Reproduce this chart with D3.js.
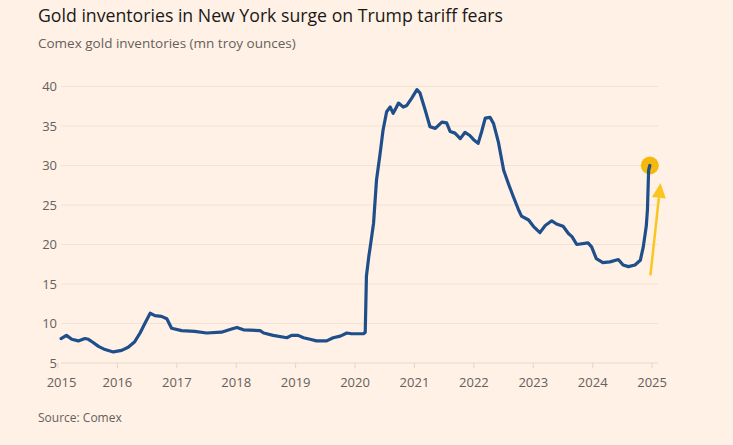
<!DOCTYPE html>
<html>
<head>
<meta charset="utf-8">
<script src="https://cdn.jsdelivr.net/npm/d3@7"></script>
<style>
  html, body { margin: 0; padding: 0; background: #fff1e5; }
  svg { display: block; font-family: "Open Sans", sans-serif; }
</style>
</head>
<body>
<svg id="chart" width="733" height="445"></svg>
<script>
// decimal years and Comex gold inventories (mn troy oz)
var years = [
  2015.06, 2015.15, 2015.24, 2015.35, 2015.46, 2015.52, 2015.60, 2015.69, 2015.80, 2015.94,
  2016.08, 2016.19, 2016.30, 2016.39, 2016.47, 2016.56, 2016.64, 2016.75, 2016.84, 2016.92,
  2017.09, 2017.31, 2017.51, 2017.76, 2017.93, 2018.02, 2018.13, 2018.41, 2018.47, 2018.63,
  2018.86, 2018.94, 2019.05, 2019.14, 2019.25, 2019.36, 2019.53, 2019.64, 2019.76, 2019.87,
  2019.95, 2020.15, 2020.18, 2020.20, 2020.24, 2020.26, 2020.32, 2020.37, 2020.43, 2020.48,
  2020.54, 2020.60, 2020.65, 2020.70, 2020.74, 2020.82, 2020.88, 2020.96, 2021.05, 2021.10,
  2021.19, 2021.27, 2021.36, 2021.47, 2021.55, 2021.61, 2021.69, 2021.78, 2021.86, 2021.94,
  2022.00, 2022.08, 2022.14, 2022.20, 2022.28, 2022.34, 2022.42, 2022.51, 2022.59, 2022.67,
  2022.76, 2022.81, 2022.93, 2023.01, 2023.12, 2023.21, 2023.32, 2023.40, 2023.51, 2023.60,
  2023.66, 2023.74, 2023.93, 2023.99, 2024.07, 2024.18, 2024.30, 2024.44, 2024.52, 2024.61,
  2024.72, 2024.81, 2024.86, 2024.91, 2024.93, 2024.95, 2024.97
];
var values = [
  8.1, 8.5, 8.0, 7.8, 8.1, 8.0, 7.6, 7.1, 6.7, 6.4,
  6.6, 7.0, 7.7, 8.8, 10.0, 11.3, 11.0, 10.9, 10.6, 9.4,
  9.1, 9.0, 8.8, 8.9, 9.3, 9.5, 9.2, 9.1, 8.8, 8.5,
  8.2, 8.5, 8.5, 8.2, 8.0, 7.8, 7.8, 8.2, 8.4, 8.8,
  8.7, 8.7, 8.9, 16.0, 18.5, 19.5, 22.7, 28.2, 31.5, 34.5,
  36.8, 37.4, 36.6, 37.3, 37.9, 37.4, 37.6, 38.5, 39.6, 39.2,
  37.0, 34.9, 34.7, 35.5, 35.4, 34.3, 34.1, 33.4, 34.2, 33.8,
  33.3, 32.8, 34.3, 36.0, 36.1, 35.3, 33.0, 29.4, 27.7, 26.1,
  24.4, 23.6, 23.1, 22.3, 21.5, 22.4, 23.0, 22.6, 22.3, 21.4,
  21.0, 20.0, 20.2, 19.7, 18.2, 17.7, 17.8, 18.1, 17.4, 17.2,
  17.4, 18.0, 19.7, 22.3, 24.4, 29.4, 30.0
];
var yTicks = [5, 10, 15, 20, 25, 30, 35, 40];
var xTicks = [2015, 2016, 2017, 2018, 2019, 2020, 2021, 2022, 2023, 2024, 2025];

var svg = d3.select("#chart");

var x = d3.scaleLinear().domain([2015, 2025]).range([57.5, 651.6]);
var y = d3.scaleLinear().domain([5, 40]).range([363, 86.5]);
var gridLeft = 61, gridRight = 658;

svg.append("rect")
  .attr("width", 733).attr("height", 445)
  .attr("fill", "#fff1e5");

// titles
svg.append("text")
  .attr("x", 38).attr("y", 22)
  .attr("font-size", "17.7px")
  .attr("fill", "#1a1817")
  .text("Gold inventories in New York surge on Trump tariff fears");

svg.append("text")
  .attr("x", 38).attr("y", 48)
  .attr("font-size", "13.5px")
  .attr("fill", "#66605c")
  .text("Comex gold inventories (mn troy ounces)");

// horizontal gridlines + y labels
var yAxis = svg.append("g").attr("class", "y-axis");

yAxis.selectAll("line")
  .data(yTicks)
  .enter()
  .append("line")
  .attr("x1", gridLeft).attr("x2", gridRight)
  .attr("y1", function (d) { return y(d); })
  .attr("y2", function (d) { return y(d); })
  .attr("stroke", function (d) { return d === 5 ? "#e9d8c9" : "#f3e2d4"; })
  .attr("stroke-width", 1);

yAxis.selectAll("text")
  .data(yTicks)
  .enter()
  .append("text")
  .attr("x", 57)
  .attr("y", function (d) { return y(d); })
  .attr("dy", "0.35em")
  .attr("text-anchor", "end")
  .attr("font-size", "13px")
  .attr("fill", "#66605c")
  .text(function (d) { return d; });

// x axis
var xAxis = svg.append("g")
  .attr("transform", "translate(0," + y(5) + ")")
  .call(d3.axisBottom(x).tickValues(xTicks).tickFormat(d3.format("d")).tickSize(5).tickPadding(10));

xAxis.select(".domain").remove();
xAxis.selectAll(".tick line").attr("stroke", "#e6d4c4");
xAxis.selectAll(".tick text")
  .attr("font-size", "13px")
  .attr("font-family", "\"Open Sans\", sans-serif")
  .attr("fill", "#66605c");
xAxis.selectAll(".tick text").filter(function (d) { return d === 2015; }).attr("dx", "3.5");

// end marker
var last = values.length - 1;
svg.append("circle")
  .attr("cx", x(years[last]))
  .attr("cy", y(values[last]))
  .attr("r", 9)
  .attr("fill", "#f4b80f");

// line
var line = d3.line()
  .x(function (d, i) { return x(years[i]); })
  .y(function (d) { return y(d); })
  .curve(d3.curveLinear);

svg.append("path")
  .datum(values)
  .attr("d", line)
  .attr("fill", "none")
  .attr("stroke", "#1f4f8b")
  .attr("stroke-width", 3.2)
  .attr("stroke-linejoin", "round")
  .attr("stroke-linecap", "round");

// annotation arrow
var arrowTail = [x(2024.98), y(16.1)];
var arrowTip = [x(2025.15), y(27.8)];
var ang = Math.atan2(arrowTip[1] - arrowTail[1], arrowTip[0] - arrowTail[0]);
var headLen = 15, headHalf = 7;
var baseX = arrowTip[0] - headLen * Math.cos(ang), baseY = arrowTip[1] - headLen * Math.sin(ang);

svg.append("line")
  .attr("x1", arrowTail[0]).attr("y1", arrowTail[1])
  .attr("x2", baseX).attr("y2", baseY)
  .attr("stroke", "#fbc520")
  .attr("stroke-width", 2.5);

svg.append("path")
  .attr("d", "M" + arrowTip[0] + "," + arrowTip[1] +
    "L" + (baseX + headHalf * Math.sin(ang)) + "," + (baseY - headHalf * Math.cos(ang)) +
    "L" + (baseX - headHalf * Math.sin(ang)) + "," + (baseY + headHalf * Math.cos(ang)) + "Z")
  .attr("fill", "#fbc520");

// source
svg.append("text")
  .attr("x", 38).attr("y", 422)
  .attr("font-size", "12px")
  .attr("fill", "#66605c")
  .text("Source: Comex");
</script>
</body>
</html>
